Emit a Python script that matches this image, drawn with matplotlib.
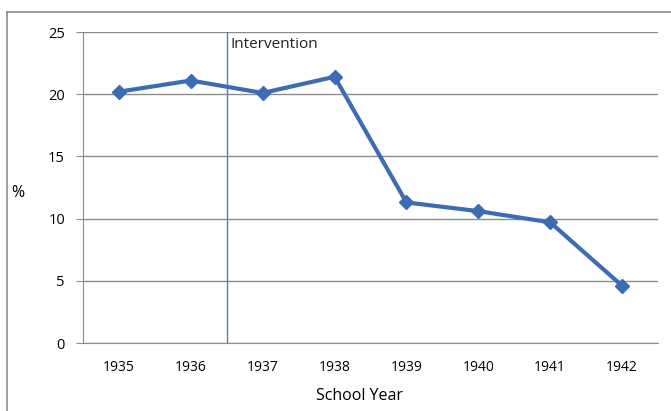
import numpy as np
import matplotlib.pyplot as plt
from matplotlib.lines import Line2D

years = ['1935', '1936', '1937', '1938', '1939', '1940', '1941', '1942']
pct = [20.2, 21.1, 20.1, 21.4, 11.3, 10.6, 9.7, 4.6]
yticks = [0, 5, 10, 15, 20, 25]

plt.rcParams['font.family'] = ['Open Sans', 'DejaVu Sans']
blue = '#3D6CB5'
grey = '#8C8C8C'

fig = plt.figure(figsize=(6.71, 4.11), dpi=100)
W, H = 671, 411
ax = fig.add_axes([83 / W, 1 - 343 / H, (658 - 83) / W, (343 - 32) / H])

x = np.arange(len(years))
ax.plot(x, pct, color=blue, lw=3, marker='D', ms=7, mec=blue, mfc=blue, zorder=3)
ax.axvline(1.5, color='#4F81BD', lw=1, zorder=2)
ax.text(1.55, 24.0, 'Intervention', fontsize=11, color='#222222', va='center', ha='left')

ax.set_xlim(-0.5, 7.5)
ax.set_ylim(0, 25)
ax.set_xticks(x)
ax.set_xticklabels(years, fontsize=10)
ax.set_yticks(yticks)
ax.set_yticklabels([str(v) for v in yticks], fontsize=10.5)
ax.tick_params(axis='x', length=0, pad=12)
ax.tick_params(axis='y', length=5, color=grey, pad=8)
ax.grid(axis='y', color=grey, lw=1)
ax.set_axisbelow(True)
for s in ['top', 'right']:
    ax.spines[s].set_visible(False)
ax.spines['left'].set_color(grey)
ax.spines['bottom'].set_color(grey)

fig.text(18 / W, 1 - 193 / H, '%', fontsize=11.5, ha='center', va='center')
fig.text(360 / W, 1 - 396 / H, 'School Year', fontsize=11.5, ha='center', va='center')

# outer chart frame
fig.add_artist(Line2D([7 / W, 7 / W], [0, 1 - 12 / H], color=grey, lw=1.2, transform=fig.transFigure))
fig.add_artist(Line2D([7 / W, 1], [1 - 12 / H, 1 - 12 / H], color=grey, lw=1.2, transform=fig.transFigure))

fig.savefig('out.png', dpi=100)
